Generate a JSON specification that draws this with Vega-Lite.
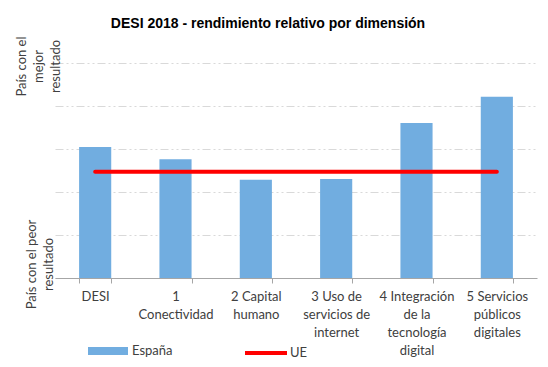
{
  "$schema": "https://vega.github.io/schema/vega-lite/v6.json",
  "width": 482,
  "height": 215,
  "autosize": {"type": "none"},
  "padding": {"left": 55, "top": 63, "right": 11, "bottom": 89},
  "background": "white",
  "config": {"view": {"stroke": null}, "font": "Lato"},
  "title": {
    "text": "DESI 2018 - rendimiento relativo por dimensión",
    "font": "Liberation Sans",
    "fontSize": 14,
    "fontWeight": "bold",
    "color": "#000000",
    "anchor": "middle",
    "dx": -28,
    "offset": 5
  },
  "data": {
    "values": [
      {"dimension": "DESI", "espana": 0.609, "ue": 0.494},
      {"dimension": "1 Conectividad", "espana": 0.552, "ue": 0.494},
      {"dimension": "2 Capital humano", "espana": 0.457, "ue": 0.494},
      {"dimension": "3 Uso de servicios de internet", "espana": 0.46, "ue": 0.494},
      {"dimension": "4 Integración de la tecnología digital", "espana": 0.721, "ue": 0.494},
      {"dimension": "5 Servicios públicos digitales", "espana": 0.843, "ue": 0.494}
    ]
  },
  "encoding": {
    "x": {
      "field": "dimension",
      "type": "nominal",
      "sort": null,
      "scale": {"paddingInner": 0.6, "paddingOuter": 0.3},
      "axis": {
        "title": null,
        "labelAngle": 0,
        "labelExpr": "{'DESI':['DESI'],'1 Conectividad':['1','Conectividad'],'2 Capital humano':['2 Capital','humano'],'3 Uso de servicios de internet':['3 Uso de','servicios de','internet'],'4 Integración de la tecnología digital':['4 Integración','de la','tecnología','digital'],'5 Servicios públicos digitales':['5 Servicios','públicos','digitales']}[datum.value]",
        "ticks": true,
        "tickBand": "extent",
        "tickSize": 5,
        "tickWidth": 1,
        "tickColor": "#a6a6a6",
        "domainColor": "#a6a6a6",
        "labelFont": "Lato",
        "labelFontSize": 13,
        "labelColor": "#404040",
        "labelLineHeight": 18,
        "labelPadding": 7,
        "labelBaseline": "top",
        "labelLimit": 0,
        "grid": false
      }
    }
  },
  "layer": [
    {
      "mark": {"type": "bar"},
      "encoding": {
        "y": {
          "field": "espana",
          "type": "quantitative",
          "scale": {"domain": [0, 1]},
          "axis": {
            "title": null,
            "values": [0, 0.2, 0.4, 0.6, 0.8, 1],
            "grid": true,
            "gridColor": "#d9d9d9",
            "gridDash": [8, 3, 2, 3, 2, 3],
            "gridWidth": 1,
            "domain": false,
            "ticks": false,
            "labelAngle": -90,
            "labelAlign": "center",
            "labelBaseline": "bottom",
            "labelExpr": "datum.value == 1 ? ['País con el','mejor','resultado'] : (datum.value == 0 ? ['País con el peor','resultado'] : '')",
            "labelLineHeight": 17,
            "labelFont": "Lato",
            "labelFontSize": 13,
            "labelColor": "#404040",
            "labelOverlap": false,
            "labelFlush": false,
            "labelBound": false,
            "labelOffset": {"condition": {"test": "datum.value == 0", "value": -14}, "value": 3},
            "labelPadding": {"condition": {"test": "datum.value == 0", "value": 17}, "value": 27}
          }
        },
        "color": {
          "datum": "España",
          "scale": {"range": ["#71ade0"]},
          "legend": {
            "title": null,
            "orient": "none",
            "legendX": 33,
            "legendY": 268,
            "padding": 0,
            "symbolType": "M-1,-0.2H1V0.2H-1Z",
            "symbolSize": 1600,
            "symbolStrokeWidth": 0,
            "labelFont": "Lato",
            "labelFontSize": 13,
            "labelColor": "#404040"
          }
        }
      }
    },
    {
      "mark": {"type": "line", "strokeWidth": 4, "strokeCap": "round"},
      "encoding": {
        "y": {"field": "ue", "type": "quantitative", "axis": {"title": null}},
        "stroke": {
          "datum": "UE",
          "scale": {"range": ["#ff0000"]},
          "legend": {
            "title": null,
            "orient": "none",
            "legendX": 188,
            "legendY": 267,
            "padding": 0,
            "symbolType": "stroke",
            "symbolSize": 1764,
            "symbolStrokeWidth": 4,
            "labelOffset": 1,
            "labelFont": "Lato",
            "labelFontSize": 13,
            "labelColor": "#404040"
          }
        }
      }
    }
  ]
}
